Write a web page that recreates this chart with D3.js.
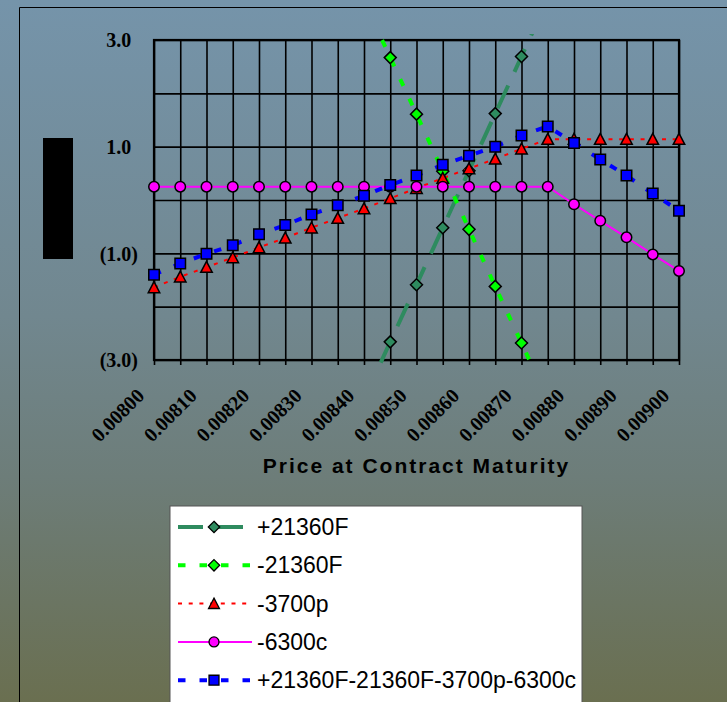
<!DOCTYPE html>
<html>
<head>
<meta charset="utf-8">
<script src="https://cdn.jsdelivr.net/npm/d3@7"></script>
<style>
  html, body { margin: 0; padding: 0; background: #6f8189; }
  svg { display: block; }
</style>
</head>
<body>
<svg id="chart" width="727" height="702"></svg>
<script>
// Price grid at contract maturity
const categories = [
  "0.00800","0.00805","0.00810","0.00815","0.00820","0.00825","0.00830",
  "0.00835","0.00840","0.00845","0.00850","0.00855","0.00860","0.00865",
  "0.00870","0.00875","0.00880","0.00885","0.00890","0.00895","0.00900"
];
const tickLabels = ["0.00800","0.00810","0.00820","0.00830","0.00840","0.00850",
  "0.00860","0.00870","0.00880","0.00890","0.00900"];
const yTickValues = [3, 1, -1, -3];
const yGridValues = [-3, -2, -1, 0, 1, 2, 3];

// Profit / loss of each leg (only the part near the plot range is charted for futures)
const longFutures = [null,null,null,null,null,null,null,null,
  -3.73,-2.66,-1.59,-0.52,0.55,1.62,2.69,3.76,null,null,null,null,null];
const shortFutures = [null,null,null,null,null,null,null,null,
  3.73,2.67,1.61,0.54,-0.55,-1.62,-2.68,-3.75,null,null,null,null,null];
const shortPuts = [-1.64,-1.44,-1.26,-1.08,-0.89,-0.71,-0.52,-0.34,-0.16,0.03,0.22,
  0.41,0.59,0.77,0.96,1.14,1.14,1.14,1.14,1.14,1.14];
const shortCalls = [0.25,0.25,0.25,0.25,0.25,0.25,0.25,0.25,0.25,0.25,0.25,
  0.25,0.25,0.25,0.25,0.25,-0.08,-0.39,-0.70,-1.02,-1.33];
const combined = [-1.40,-1.19,-1.01,-0.85,-0.64,-0.47,-0.27,-0.10,0.08,0.28,0.46,
  0.66,0.83,1.00,1.21,1.38,1.07,0.76,0.46,0.12,-0.20];

const seriesNames = ["+21360F", "-21360F", "-3700p", "-6300c", "+21360F-21360F-3700p-6300c"];
const seriesValues = [longFutures, shortFutures, shortPuts, shortCalls, combined];

// marker shapes
const diamondType = { draw(ctx, size) { const r = Math.sqrt(size) / 2;
  ctx.moveTo(0, -r); ctx.lineTo(r, 0); ctx.lineTo(0, r); ctx.lineTo(-r, 0); ctx.closePath(); } };
const triangleType = { draw(ctx, size) { const r = Math.sqrt(size) / 2;
  ctx.moveTo(0, -r); ctx.lineTo(r, r * 0.9); ctx.lineTo(-r, r * 0.9); ctx.closePath(); } };
const squareType = { draw(ctx, size) { const r = Math.sqrt(size) / 2;
  ctx.rect(-r, -r, 2 * r, 2 * r); } };
const circleType = { draw(ctx, size) { const r = Math.sqrt(size) / 2;
  ctx.moveTo(r, 0); ctx.arc(0, 0, r, 0, 2 * Math.PI); } };

const styles = [
  { stroke: "#2e8b5f", width: 4, dash: "25,15", fill: "#2e8b5f", type: diamondType, size: 144 },
  { stroke: "#00ff00", width: 4, dash: "7.5,14", fill: "#00ff00", type: diamondType, size: 144 },
  { stroke: "#ff0000", width: 2, dash: "4,6.7", fill: "#ff0000", type: triangleType, size: 132 },
  { stroke: "#ff00ff", width: 2, dash: null, fill: "#ff00ff", type: circleType, size: 110 },
  { stroke: "#0000ff", width: 4, dash: "7.5,14", fill: "#0000ff", type: squareType, size: 110 }
];

const svg = d3.select("#chart");
const W = 727, H = 702;
const plot = { left: 154, right: 679, top: 40, bottom: 360 };

// background gradient
const defs = svg.append("defs");
const grad = defs.append("linearGradient").attr("id", "bg")
  .attr("x1", 0).attr("y1", 0).attr("x2", 0).attr("y2", 1);
[[0, "#7594aa"], [0.45, "#71878f"], [0.68, "#6d7d79"], [0.86, "#6b7562"], [1, "#6a6f50"]]
  .forEach(([o, c]) => grad.append("stop").attr("offset", o).attr("stop-color", c));
svg.append("rect").attr("width", W).attr("height", H).attr("fill", "url(#bg)");

// chart frame lines
svg.append("path").attr("d", `M19.5,${H} V7.5 H${W}`)
  .attr("fill", "none").attr("stroke", "#000").attr("stroke-width", 1);

// vertical axis title block
svg.append("rect").attr("x", 43).attr("y", 138).attr("width", 30).attr("height", 121).attr("fill", "#000");

const x = d3.scalePoint().domain(categories).range([plot.left, plot.right]);
const y = d3.scaleLinear().domain([-3, 3]).range([plot.bottom, plot.top]);

// gridlines
svg.append("g")
  .attr("transform", `translate(0,${plot.top})`)
  .call(d3.axisBottom(x).tickSize(plot.bottom - plot.top).tickFormat(""))
  .call(g => g.select(".domain").remove())
  .call(g => g.selectAll("line").attr("stroke", "#000").attr("stroke-width", 1.6));
svg.append("g")
  .attr("transform", `translate(${plot.left},0)`)
  .call(d3.axisRight(y).tickValues(yGridValues).tickSize(plot.right - plot.left).tickFormat(""))
  .call(g => g.select(".domain").remove())
  .call(g => g.selectAll("line").attr("stroke", "#000").attr("stroke-width", 1.6));

// plot border
svg.append("rect").attr("x", plot.left).attr("y", plot.top)
  .attr("width", plot.right - plot.left).attr("height", plot.bottom - plot.top)
  .attr("fill", "none").attr("stroke", "#000").attr("stroke-width", 2.2);

// x axis: tick marks and rotated labels
svg.append("g")
  .attr("transform", `translate(0,${plot.bottom})`)
  .call(d3.axisBottom(x).tickSize(5).tickFormat(""))
  .call(g => g.select(".domain").remove())
  .call(g => g.selectAll("line").attr("stroke", "#000").attr("stroke-width", 1.6));
svg.append("g")
  .attr("transform", `translate(0,${plot.bottom})`)
  .call(d3.axisBottom(x).tickValues(tickLabels).tickSize(0))
  .call(g => g.select(".domain").remove())
  .call(g => g.selectAll("text")
    .attr("x", 0).attr("y", 0).attr("dy", null)
    .attr("transform", "translate(-9,37) rotate(-45)")
    .attr("text-anchor", "end")
    .attr("fill", "#000")
    .style("font-family", "'Liberation Serif', 'Times New Roman', serif")
    .style("font-weight", "bold").style("font-size", "20px"));

// y axis labels, accounting-style negatives
const yFmt = v => v < 0 ? `(${d3.format(".1f")(-v)})` : d3.format(".1f")(v);
svg.append("g")
  .attr("transform", `translate(${plot.left},0)`)
  .call(d3.axisLeft(y).tickValues(yTickValues).tickSize(0).tickPadding(16).tickFormat(yFmt))
  .call(g => g.select(".domain").remove())
  .call(g => g.selectAll("text")
    .attr("dx", d => d < 0 ? 0 : -6.7)
    .attr("dy", "0.34em")
    .attr("fill", "#000")
    .style("font-family", "'Liberation Serif', 'Times New Roman', serif")
    .style("font-weight", "bold").style("font-size", "20px"));

// x axis title
svg.append("text").attr("x", (plot.left + plot.right) / 2).attr("y", 473)
  .attr("text-anchor", "middle")
  .style("font-family", "'Liberation Sans', Arial, sans-serif")
  .style("font-weight", "bold").style("font-size", "21px").style("letter-spacing", "2px")
  .text("Price at Contract Maturity");

// clip lines slightly beyond the plot rectangle
defs.append("clipPath").attr("id", "plotClip").append("rect")
  .attr("x", plot.left - 2).attr("y", plot.top - 6)
  .attr("width", plot.right - plot.left + 4).attr("height", plot.bottom - plot.top + 13);

const line = d3.line()
  .defined(d => d.v !== null)
  .x(d => x(d.c)).y(d => y(d.v));

const seriesG = svg.append("g");
seriesValues.forEach((vals, si) => {
  const st = styles[si];
  const pts = categories.map((c, i) => ({ c, v: vals[i] }));
  const g = seriesG.append("g");
  g.append("path").datum(pts)
    .attr("clip-path", "url(#plotClip)")
    .attr("d", line)
    .attr("fill", "none").attr("stroke", st.stroke).attr("stroke-width", st.width)
    .attr("stroke-dasharray", st.dash);
  g.selectAll("path.mk").data(pts.filter(d => d.v !== null && d.v >= -3 && d.v <= 3))
    .join("path").attr("class", "mk")
    .attr("transform", d => `translate(${x(d.c)},${y(d.v)})`)
    .attr("d", d3.symbol().type(st.type).size(st.size))
    .attr("fill", st.fill).attr("stroke", "#000").attr("stroke-width", 1.5);
});

// legend
const legend = svg.append("g");
legend.append("rect").attr("x", 170).attr("y", 506).attr("width", 412).attr("height", 200)
  .attr("fill", "#fff").attr("stroke", "#555").attr("stroke-width", 1);
seriesNames.forEach((name, i) => {
  const st = styles[i];
  const cy = 527 + i * 38.3;
  legend.append("line").attr("x1", 178).attr("x2", 252).attr("y1", cy).attr("y2", cy)
    .attr("stroke", st.stroke).attr("stroke-width", st.width).attr("stroke-dasharray", st.dash);
  legend.append("path").attr("transform", `translate(214,${cy})`)
    .attr("d", d3.symbol().type(st.type).size(st.size * 0.9))
    .attr("fill", st.fill).attr("stroke", "#000").attr("stroke-width", 1.3);
  legend.append("text").attr("x", 257).attr("y", cy).attr("dy", "0.35em")
    .style("font-family", "'Liberation Sans', Arial, sans-serif").style("font-size", "23px")
    .text(name);
});
</script>
</body>
</html>
